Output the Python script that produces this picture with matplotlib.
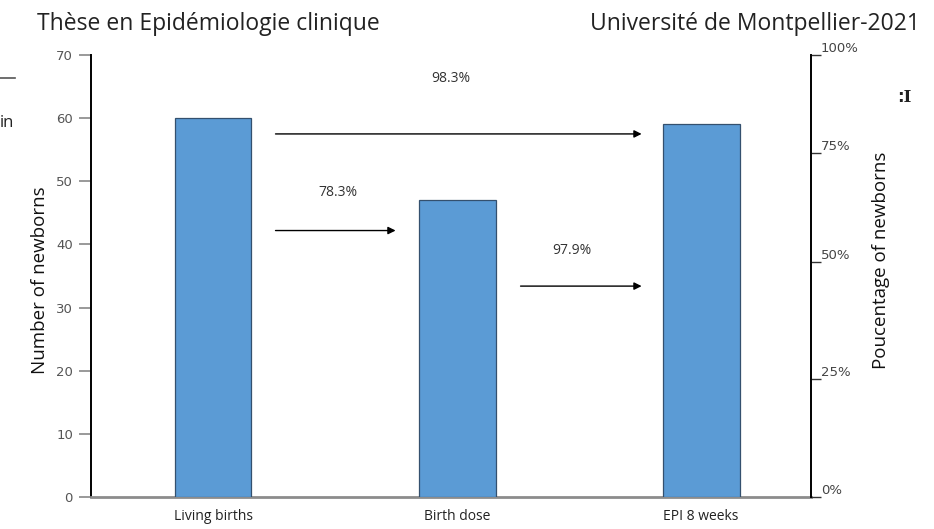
import matplotlib
matplotlib.use("Agg")
import matplotlib.pyplot as plt

#Data
categories = ["Living births", "Birth dose", "EPI 8 weeks"]
newborns = [60, 47, 59]
left_ticks = [0, 10, 20, 30, 40, 50, 60, 70]
right_tick_pos = [0, 26.7, 53.2, 77.8, 100]
right_tick_labels = ["0%", "25%", "50%", "75%", "100%"]
rates = ["98.3%", "78.3%", "97.9%"]

plt.rcParams['font.family'] = ['Open Sans', 'DejaVu Sans']

fig = plt.figure(figsize=(9.34, 5.29), dpi=100)
ax = fig.add_axes([91/934, 32/529, 720/934, 442/529])

#Bars
x = list(range(len(categories)))
ax.bar(x, newborns, width=0.315, color="#5B9BD5", edgecolor="#34506e", linewidth=0.9, zorder=3)
ax.set_xlim(-0.5, 2.45)
ax.set_ylim(0, 70)
ax.set_xticks(x)
ax.set_xticklabels(categories, fontsize=10, color="#222222")
ax.tick_params(axis='x', length=0, pad=9)
ax.set_yticks(left_ticks)
ax.set_yticklabels([str(v) for v in left_ticks], fontsize=9.5, color="#555555", family="DejaVu Sans")
ax.tick_params(axis='y', length=9, width=1.2, color="#888888", pad=4)

for s in ["top", "right"]:
    ax.spines[s].set_visible(False)
ax.spines["left"].set_color("black")
ax.spines["left"].set_linewidth(1.4)
ax.spines["bottom"].set_color("#8c8c8c")
ax.spines["bottom"].set_linewidth(2)

ax.set_ylabel("Number of newborns", fontsize=13.5, color="#111111")
ax.yaxis.set_label_coords(-0.059, 0.49)

#Right axis with percentages
ax2 = ax.twinx()
ax2.set_ylim(0, 100)
ax2.set_yticks(right_tick_pos)
ax2.set_yticklabels(right_tick_labels, fontsize=9.5, color="#444444", family="DejaVu Sans")
for lab in ax2.get_yticklabels():
    lab.set_va("bottom")
ax2.tick_params(axis='y', direction='out', length=7, width=1, color="#333333", pad=0)
for s in ["top", "left", "bottom"]:
    ax2.spines[s].set_visible(False)
ax2.spines["right"].set_color("black")
ax2.spines["right"].set_linewidth(1.4)
ax2.set_ylabel("Poucentage of newborns", fontsize=13.5, color="#111111")
ax2.yaxis.set_label_coords(1.085, 0.536)

#Arrows and percentages between stages
arrow_kw = dict(arrowstyle="-|>", color="black", lw=1.0, mutation_scale=11, shrinkA=0, shrinkB=0)
ax.annotate("", xy=(1.756, 57.5), xytext=(0.256, 57.5), arrowprops=arrow_kw)
ax.annotate("", xy=(0.748, 42.2), xytext=(0.256, 42.2), arrowprops=arrow_kw)
ax.annotate("", xy=(1.756, 33.4), xytext=(1.26, 33.4), arrowprops=arrow_kw)
ax.text(0.973, 66.2, rates[0], ha="center", va="center", fontsize=10, color="#333333")
ax.text(0.51, 48.2, rates[1], ha="center", va="center", fontsize=10, color="#333333")
ax.text(1.47, 39.1, rates[2], ha="center", va="center", fontsize=10, color="#333333")

#Page header
fig.text(37/934, 1 - 24/529, "Thèse en Epidémiologie clinique", fontsize=16.5, color="#222222", va="center")
fig.text(920/934, 1 - 24/529, "Université de Montpellier-2021", fontsize=16.5, color="#222222", va="center", ha="right")

#Cropped page leftovers
fig.add_artist(plt.Line2D([0, 15/934], [1 - 78/529, 1 - 78/529], color="#555555", lw=1.2))
fig.text(0, 1 - 123/529, "in", fontsize=12, color="#222222", va="center")
fig.text(897/934, 1 - 97/529, "꞉I", fontsize=12, fontweight="bold", family=["DejaVu Serif", "DejaVu Sans"], color="#222222", va="center")

fig.savefig("out.png", dpi=100)
